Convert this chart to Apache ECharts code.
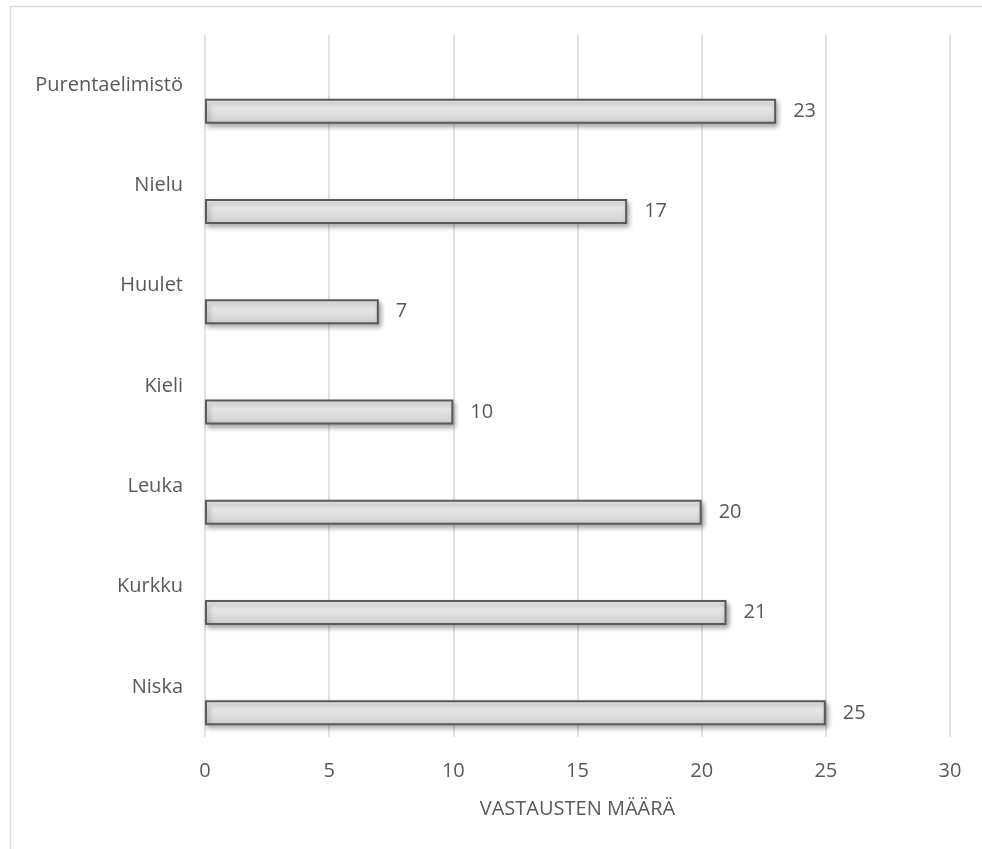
<!DOCTYPE html>
<html>
<head>
<meta charset="utf-8">
<script src="https://cdn.jsdelivr.net/npm/echarts@6/dist/echarts.min.js"></script>
<style>
  html, body { margin: 0; padding: 0; background: #ffffff; }
  #chart { width: 982px; height: 849px; }
</style>
</head>
<body>
<div id="chart"></div>
<script>
// Body areas, listed bottom to top along the category axis
const categories = ['Niska', 'Kurkku', 'Leuka', 'Kieli', 'Huulet', 'Nielu', 'Purentaelimistö'];
// Number of responses per area
const responses = [25, 21, 20, 10, 7, 17, 23];
// Empty companion series that keeps the upper slot in each category band
const spacer = categories.map(() => null);
// Value axis ticks
const xMin = 0;
const xMax = 30;
const xStep = 5;
const xAxisTitle = 'VASTAUSTEN MÄÄRÄ';

const textColor = '#595959';
const fontFamily = '"Open Sans", "Liberation Sans", sans-serif';

const chart = echarts.init(document.getElementById('chart'), null, { renderer: 'canvas' });

chart.setOption({
  animation: false,
  backgroundColor: '#ffffff',
  graphic: [{
    type: 'rect',
    silent: true,
    z: -10,
    shape: { x: 10.5, y: 6.5, width: 1000, height: 900 },
    style: { fill: 'none', stroke: '#d9d9d9', lineWidth: 1.5 }
  }],
  grid: { left: 205, right: 32, top: 35, bottom: 112, containLabel: false },
  xAxis: {
    type: 'value',
    min: xMin,
    max: xMax,
    interval: xStep,
    name: xAxisTitle,
    nameLocation: 'middle',
    nameGap: 62,
    nameTextStyle: { color: textColor, fontSize: 20, fontFamily: fontFamily },
    axisLine: { show: false },
    axisTick: { show: false },
    axisLabel: { color: textColor, fontSize: 20, fontFamily: fontFamily, margin: 24 },
    splitLine: { show: true, lineStyle: { color: '#d9d9d9', width: 1.5 } }
  },
  yAxis: {
    type: 'category',
    data: categories,
    axisLine: { show: false },
    axisTick: { show: false },
    splitLine: { show: false },
    axisLabel: { color: textColor, fontSize: 20, fontFamily: fontFamily, margin: 22 }
  },
  series: [
    {
      type: 'bar',
      data: spacer,
      barWidth: 25,
      barGap: '108%',
      silent: true
    },
    {
      type: 'bar',
      data: responses,
      barWidth: 25,
      barGap: '108%',
      itemStyle: {
        color: new echarts.graphic.LinearGradient(0, 0, 0, 1, [
          { offset: 0, color: '#f4f4f4' },
          { offset: 1, color: '#cfcfcf' }
        ]),
        borderColor: '#5a5a5a',
        borderWidth: 2,
        shadowColor: 'rgba(0,0,0,0.35)',
        shadowBlur: 5,
        shadowOffsetX: 2,
        shadowOffsetY: 3
      },
      label: {
        show: true,
        position: 'right',
        distance: 17,
        color: textColor,
        fontSize: 20,
        fontFamily: fontFamily
      }
    }
  ]
});
</script>
</body>
</html>
